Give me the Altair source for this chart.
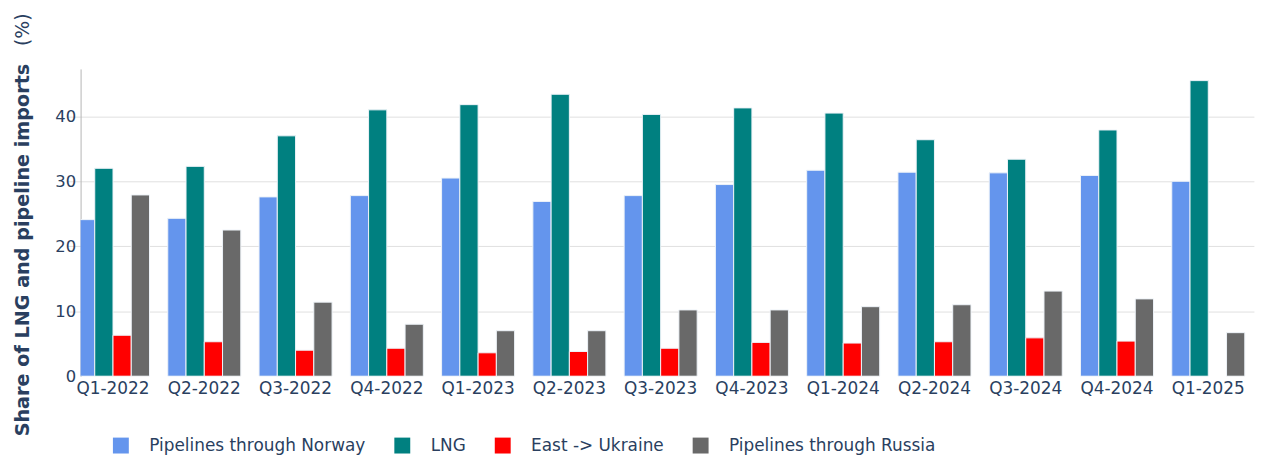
import altair as alt
import pandas as pd

quarters = ["Q1-2022", "Q2-2022", "Q3-2022", "Q4-2022", "Q1-2023", "Q2-2023", "Q3-2023",
            "Q4-2023", "Q1-2024", "Q2-2024", "Q3-2024", "Q4-2024", "Q1-2025"]
series = ["Pipelines through Norway", "LNG", "East -> Ukraine", "Pipelines through Russia"]
colors = ["#6495ED", "#008080", "#FF0000", "#696969"]

norway = [24.1, 24.3, 27.6, 27.8, 30.5, 26.9, 27.8, 29.5, 31.7, 31.4, 31.3, 30.9, 30.0]
lng = [32.0, 32.3, 37.0, 41.0, 41.8, 43.4, 40.3, 41.3, 40.5, 36.4, 33.4, 37.9, 45.5]
ukraine = [6.3, 5.3, 4.0, 4.3, 3.6, 3.8, 4.3, 5.2, 5.1, 5.3, 5.9, 5.4, None]
russia = [27.9, 22.5, 11.4, 8.0, 7.0, 7.0, 10.2, 10.2, 10.7, 11.0, 13.1, 11.9, 6.7]

y_ticks = [0, 10, 20, 30, 40]
y_title = "Share of LNG and pipeline imports"
y_unit = "(%)"

rows = []
for s, vals in zip(series, [norway, lng, ukraine, russia]):
    for q, v in zip(quarters, vals):
        if v is not None:
            rows.append({"quarter": q, "series": s, "value": v})
df = pd.DataFrame(rows)

FONT = "DejaVu Sans"
TXT = "#2a3f5f"

bars = alt.Chart(df).mark_bar(stroke="#eef3f8", strokeWidth=1, clip=True).encode(
    x=alt.X("quarter:N", sort=quarters,
            scale=alt.Scale(domain=quarters, range=[-13.3, 1179.9], paddingInner=0.2, paddingOuter=0.1),
            axis=alt.Axis(title=None, labelAngle=0, labelFontSize=17, labelColor=TXT,
                          labelPadding=4, domain=False, ticks=False, grid=False, labelFont=FONT)),
    xOffset=alt.XOffset("series:N", sort=series, scale=alt.Scale(domain=series)),
    y=alt.Y("value:Q", scale=alt.Scale(domain=[0, 47.3], nice=False, zero=True),
            axis=alt.Axis(values=y_ticks, title=y_title, titleFont=FONT, titleFontSize=19.3,
                          titleFontWeight="bold", titleColor=TXT, titleAngle=270,
                          titleAlign="left", titleBaseline="alphabetic", titleX=-52, titleY=369,
                          labelFontSize=16.5, labelColor=TXT, labelPadding=5, labelFont=FONT,
                          ticks=False, tickSize=0, domain=True, domainColor="#b4b4b4",
                          domainWidth=1, grid=True,
                          gridColor={"condition": {"test": "datum.value === 0", "value": "transparent"},
                                     "value": "#e0e0e0"},
                          gridWidth=1)),
    color=alt.Color("series:N", sort=series,
                    scale=alt.Scale(domain=series, range=colors),
                    legend=alt.Legend(title=None, orient="none", legendX=32, legendY=370,
                                      direction="horizontal", columns=4, symbolType="square",
                                      symbolSize=256, symbolStrokeWidth=0, symbolOpacity=1,
                                      labelFontSize=17, labelColor=TXT, labelFont=FONT,
                                      labelOffset=20, columnPadding=28, labelLimit=400,
                                      padding=0)),
)

unit = alt.Chart(pd.DataFrame({"t": [y_unit]})).mark_text(
    angle=270, align="left", baseline="alphabetic", fontSize=19, font=FONT, color=TXT
).encode(x=alt.value(-52), y=alt.value(-23), text="t:N")

chart = alt.layer(bars, unit).properties(
    width=1181, height=309,
    padding={"left": 73, "top": 60, "right": 2, "bottom": 80},
    autosize=alt.AutoSizeParams(type="none"),
).configure(font=FONT, background="white").configure_view(strokeWidth=0, stroke="transparent")

chart.save("out.html", embed_options={"renderer": "svg", "actions": False})
